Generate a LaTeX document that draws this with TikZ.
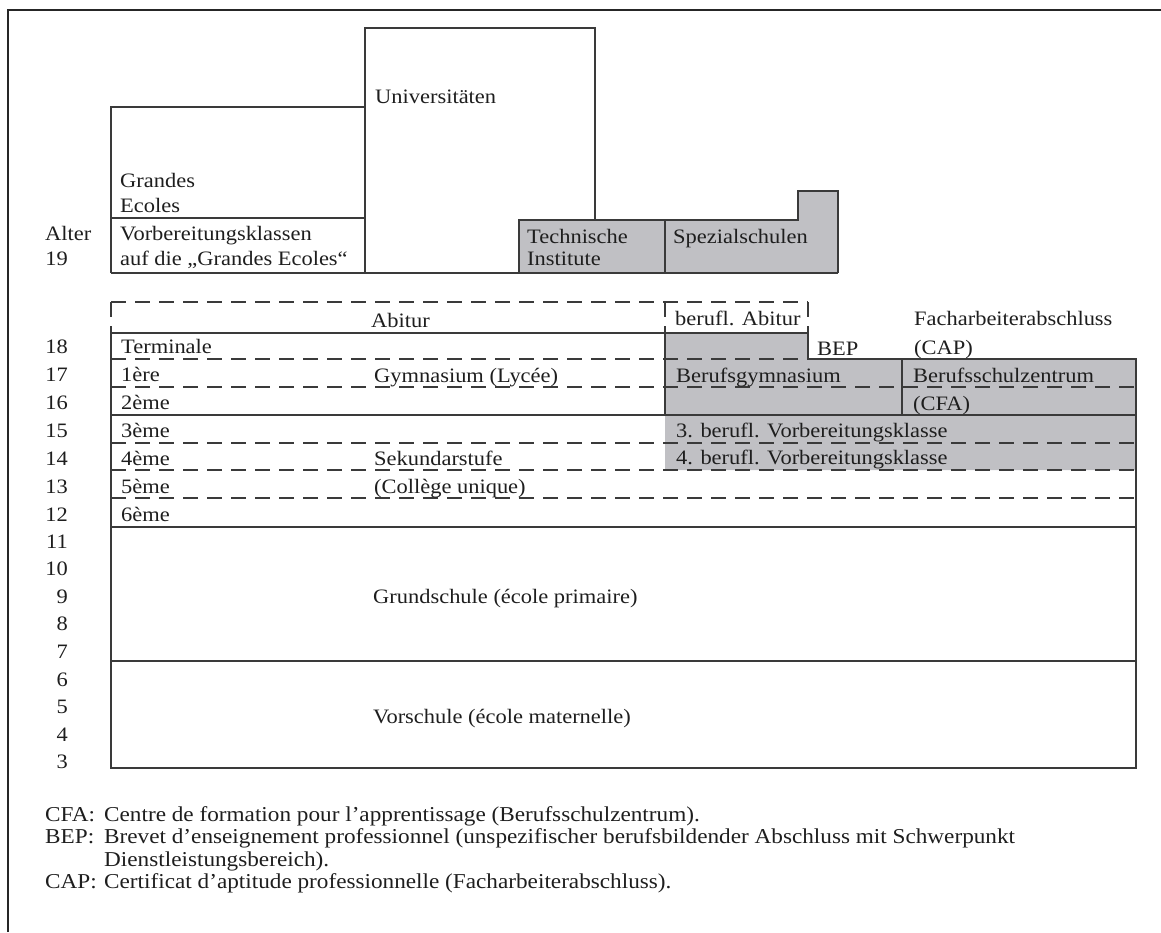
\documentclass[tikz,border=0pt]{standalone}
\usepackage{fontspec}
\setmainfont{Liberation Serif}[FakeStretch=1.095]
\definecolor{boxgray}{RGB}{192,192,196}
\definecolor{linegray}{RGB}{58,58,58}
\definecolor{inkgray}{RGB}{30,30,30}
\begin{document}
\begin{tikzpicture}[x=1pt,y=-1pt,
  font=\fontsize{20.5}{22.5}\selectfont,
  lbl/.style={anchor=base west, inner sep=0pt, text=inkgray},
  num/.style={anchor=base east, inner sep=0pt, text=inkgray},
  note/.style={lbl, font=\fontsize{21.2}{22.5}\selectfont},
  rule/.style={draw=linegray, line width=1.3pt},
  dashrule/.style={draw=linegray, line width=1.2pt, dash pattern=on 15pt off 9pt},
  shade/.style={fill=boxgray}]
\useasboundingbox (0,0) rectangle (1161,932);

% outer frame (open at right and bottom)
\draw[line width=1.8pt, black!85] (8,932) -- (8,10) -- (1161,10);

% ---------- tertiary level ----------
\fill[shade] (519,220) rectangle (665,273);
\fill[shade] (665,220) -- (798,220) -- (798,191) -- (838,191) -- (838,273) -- (665,273) -- cycle;
\draw[rule] (111,273) -- (111,107) -- (365,107);
\draw[rule] (111,218) -- (365,218);
\draw[rule] (365,273) -- (365,28) -- (595,28) -- (595,220);
\draw[rule] (111,273) -- (838,273);
\draw[rule] (519,273) -- (519,220) -- (798,220) -- (798,191) -- (838,191) -- (838,273);
\draw[rule] (665,220) -- (665,273);

\node[lbl] (uni) at (375,103) {Universitäten};
\node[lbl] (ge1) at (120,187) {Grandes};
\node[lbl] (ge2) at (120,212) {Ecoles};
\node[lbl] (vk1) at (120,240) {Vorbereitungsklassen};
\node[lbl] (vk2) at (120,265) {auf die „Grandes Ecoles“};
\node[lbl] (ti1) at (527,243) {Technische};
\node[lbl] (ti2) at (527,265) {Institute};
\node[lbl] (spez) at (673,243) {Spezialschulen};

% ---------- secondary level ----------
\fill[shade] (665,333) -- (808,333) -- (808,359) -- (1136,359) -- (1136,470) -- (665,470) -- cycle;

% Abitur and vocational Abitur (dashed)
\draw[dashrule] (111,302) -- (808,302);
\draw[dashrule] (111,302) -- (111,333);
\draw[dashrule] (665,302) -- (665,333);
\draw[dashrule] (808,302) -- (808,333);

% solid rules
\draw[rule] (111,333) -- (808,333) -- (808,359) -- (1136,359) -- (1136,768) -- (111,768) -- (111,333);
\draw[rule] (665,333) -- (665,415);
\draw[rule] (902,359) -- (902,415);
\draw[rule] (111,415) -- (1136,415);
\draw[rule] (111,527) -- (1136,527);
\draw[rule] (111,661) -- (1136,661);

% dashed year dividers
\draw[dashrule] (111,359) -- (808,359);
\draw[dashrule] (111,387) -- (1136,387);
\draw[dashrule] (111,443) -- (1136,443);
\draw[dashrule] (111,470) -- (1136,470);
\draw[dashrule] (111,498) -- (1136,498);

\node[lbl] (abi) at (371,327) {Abitur};
\node[lbl] (babi) at (675,325) {berufl. Abitur};
\node[lbl] (fach) at (914,325) {Facharbeiterabschluss};
\node[lbl] (cap) at (914,354) {(CAP)};
\node[lbl] (bep) at (817,355) {BEP};

\node[lbl] (term) at (121,353) {Terminale};
\node[lbl] (c1) at (121,381) {1ère};
\node[lbl] (c2) at (121,409) {2ème};
\node[lbl] (c3) at (121,437) {3ème};
\node[lbl] (c4) at (121,465) {4ème};
\node[lbl] (c5) at (121,493) {5ème};
\node[lbl] (c6) at (121,521) {6ème};

\node[lbl] (lyc) at (374,382) {Gymnasium (Lycée)};
\node[lbl] (sek) at (374,465) {Sekundarstufe};
\node[lbl] (col) at (374,493) {(Collège unique)};

\node[lbl] (bgym) at (676,382) {Berufsgymnasium};
\node[lbl] (bsz) at (913,382) {Berufsschulzentrum};
\node[lbl] (cfa) at (913,410) {(CFA)};
\node[lbl] (v3) at (676,437) {3. berufl. Vorbereitungsklasse};
\node[lbl] (v4) at (676,464) {4. berufl. Vorbereitungsklasse};

% ---------- primary and pre-school ----------
\node[lbl] (grund) at (373,603) {Grundschule (école primaire)};
\node[lbl] (vor) at (373,723) {Vorschule (école maternelle)};

% ---------- age scale ----------
\node[lbl] (alter) at (45,240) {Alter};
\node[num] (a19) at (68,265) {19};
\foreach \a/\yb in {18/353,17/381,16/409,15/437,14/465,13/493,12/521}
  \node[num] (a\a) at (68,\yb) {\a};
\foreach \a [count=\i from 0] in {11,10,9,8,7,6,5,4,3}
  \node[num] (a\a) at (68,548+27.6*\i) {\a};

% ---------- abbreviations ----------
\node[note] (kcfa) at (45,821) {CFA:};
\node[note] (tcfa) at (104,821) {Centre de formation pour l’apprentissage (Berufsschulzentrum).};
\node[note] (kbep) at (45,843.5) {BEP:};
\node[note] (tbep) at (104,843.5) {Brevet d’enseignement professionnel (unspezifischer berufsbildender Abschluss mit Schwerpunkt};
\node[note] (tbep2) at (104,866) {Dienstleistungsbereich).};
\node[note] (kcap) at (45,888.5) {CAP:};
\node[note] (tcap) at (104,888.5) {Certificat d’aptitude professionnelle (Facharbeiterabschluss).};
\end{tikzpicture}
\end{document}
